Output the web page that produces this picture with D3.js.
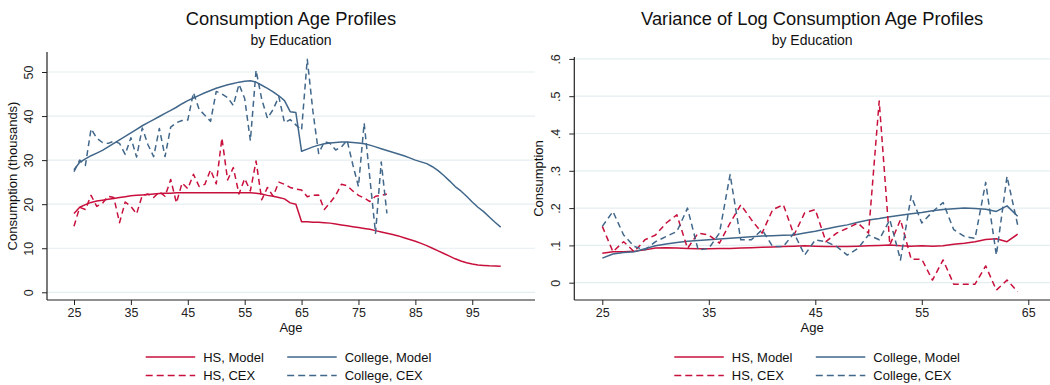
<!DOCTYPE html>
<html>
<head>
<meta charset="utf-8">
<script src="https://cdn.jsdelivr.net/npm/d3@7"></script>
<style>
  body { margin: 0; background: #fff; }
  svg { font-family: "Liberation Sans", Arial, sans-serif; }
</style>
</head>
<body>
<svg width="1050" height="385"></svg>
<script>
// ages
const agesLeft = d3.range(25, 101)
const agesCex = d3.range(25, 81)
const agesRight = d3.range(25, 65)

// left panel: consumption (thousands)
const hsModel = [17.9, 19.3, 19.9, 20.4, 20.7, 20.9, 21.1, 21.3, 21.5, 21.7,
  21.9, 22.0, 22.1, 22.2, 22.3, 22.4, 22.5, 22.5, 22.6, 22.6,
  22.6, 22.6, 22.6, 22.6, 22.6, 22.6, 22.6, 22.6, 22.6, 22.6,
  22.6, 22.6, 22.5, 22.3, 22.0, 21.8, 21.5, 21.2, 20.3, 20.0,
  16.0, 16.0, 15.9, 15.9, 15.8, 15.7, 15.5, 15.3, 15.1, 14.9,
  14.7, 14.5, 14.3, 14.0, 13.7, 13.4, 13.1, 12.8, 12.4, 12.0,
  11.6, 11.1, 10.6, 10.0, 9.4, 8.8, 8.2, 7.6, 7.1, 6.7,
  6.4, 6.2, 6.1, 6.0, 5.95, 5.9]
const collegeModel = [27.8, 29.5, 30.3, 31.0, 31.6, 32.2, 33.0, 33.8, 34.6, 35.4,
  36.2, 37.0, 37.8, 38.5, 39.2, 39.9, 40.6, 41.3, 42.0, 42.8,
  43.5, 44.1, 44.7, 45.3, 45.8, 46.3, 46.7, 47.1, 47.4, 47.7,
  47.9, 48.0, 47.7, 47.0, 46.3, 45.5, 44.6, 43.5, 41.0, 40.8,
  32.0, 32.5, 33.0, 33.4, 33.7, 33.9, 34.0, 34.1, 34.1, 34.0,
  33.9, 33.7, 33.4, 33.0, 32.6, 32.2, 31.8, 31.4, 31.0, 30.5,
  30.0, 29.6, 29.2, 28.5, 27.6, 26.5, 25.3, 24.0, 23.0, 21.8,
  20.5, 19.3, 18.3, 17.1, 15.9, 14.8]
const hsCex = [15.0, 19.3, 18.8, 22.0, 19.5, 20.2, 21.8, 21.5, 15.8, 20.5,
  19.5, 17.8, 22.0, 22.3, 21.5, 22.8, 21.8, 25.6, 20.3, 24.8,
  23.5, 26.8, 24.0, 24.5, 27.8, 24.6, 35.0, 25.5, 28.3, 22.3,
  25.8, 23.0, 29.8, 21.0, 23.8, 21.8, 25.0, 24.5, 23.8, 23.4,
  23.2, 21.7, 22.0, 22.1, 18.8, 20.3, 22.0, 24.5, 24.2, 23.0,
  22.0, 21.4, 20.6, 21.8, 22.0, 22.3]
const collegeCex = [27.4, 30.0, 28.8, 37.1, 35.0, 34.0, 33.8, 34.3, 33.8, 31.3,
  35.1, 30.7, 37.3, 33.5, 30.8, 37.2, 30.8, 37.5, 38.5, 39.0,
  39.1, 45.3, 41.5, 40.2, 38.8, 45.6, 45.0, 44.2, 42.4, 47.2,
  44.0, 34.4, 50.4, 43.8, 39.5, 41.5, 44.4, 38.5, 39.2, 38.0,
  36.8, 52.9, 41.0, 31.5, 34.2, 33.8, 32.3, 33.0, 34.5, 29.0,
  24.0, 38.4, 26.0, 13.4, 29.6, 17.9]

// right panel: variance of log consumption
const hsVarModel = [0.079, 0.083, 0.083, 0.084, 0.088, 0.093, 0.094, 0.093, 0.092, 0.091,
  0.091, 0.092, 0.092, 0.093, 0.094, 0.095, 0.096, 0.097, 0.098, 0.099,
  0.098, 0.097, 0.097, 0.097, 0.098, 0.099, 0.100, 0.101, 0.099, 0.098,
  0.099, 0.098, 0.099, 0.103, 0.106, 0.110, 0.116, 0.118, 0.110, 0.130]
const collegeVarModel = [0.066, 0.077, 0.081, 0.083, 0.091, 0.099, 0.104, 0.108, 0.111, 0.113,
  0.115, 0.117, 0.119, 0.121, 0.123, 0.125, 0.126, 0.127, 0.128, 0.133,
  0.138, 0.144, 0.150, 0.155, 0.162, 0.168, 0.172, 0.177, 0.181, 0.185,
  0.188, 0.193, 0.196, 0.198, 0.200, 0.199, 0.197, 0.191, 0.206, 0.178]
const hsVarCex = [0.151, 0.083, 0.110, 0.083, 0.115, 0.128, 0.160, 0.182, 0.092, 0.133,
  0.128, 0.106, 0.160, 0.209, 0.169, 0.133, 0.196, 0.209, 0.128, 0.187,
  0.196, 0.110, 0.133, 0.146, 0.160, 0.133, 0.487, 0.101, 0.169, 0.063,
  0.063, 0.007, 0.061, -0.004, -0.004, -0.004, 0.045, -0.020, 0.007, -0.024]
const collegeVarCex = [0.151, 0.191, 0.128, 0.097, 0.088, 0.110, 0.124, 0.137, 0.200, 0.088,
  0.092, 0.133, 0.290, 0.115, 0.115, 0.142, 0.097, 0.097, 0.133, 0.074,
  0.115, 0.110, 0.097, 0.074, 0.092, 0.128, 0.115, 0.169, 0.061, 0.233,
  0.160, 0.190, 0.215, 0.142, 0.124, 0.119, 0.269, 0.074, 0.285, 0.155]

const leftXTicks = [25, 35, 45, 55, 65, 75, 85, 95]
const leftYTicks = [0, 10, 20, 30, 40, 50]
const rightXTicks = [25, 35, 45, 55, 65]
const rightYTicks = [0, 0.1, 0.2, 0.3, 0.4, 0.5, 0.6]
const legendLabels = ['HS, Model', 'College, Model', 'HS, CEX', 'College, CEX']

const red = '#c8103c'
const blue = '#41678a'
const gridColor = '#e4edf0'

const svg = d3.select('svg')

function panel(opt) {
  const g = svg.append('g')
  const x = d3.scaleLinear().domain(opt.xDomain).range(opt.xRange)
  const y = d3.scaleLinear().domain(opt.yDomain).range(opt.yRange)
  const [left, right] = opt.frameX
  const [top, bottom] = opt.frameY

  // grid
  g.selectAll('.grid').data(opt.yTicks).enter().append('line')
    .attr('x1', left).attr('x2', right)
    .attr('y1', d => y(d)).attr('y2', d => y(d))
    .attr('stroke', gridColor).attr('stroke-width', 1.2)

  // axes
  const yAxis = g.append('g').attr('transform', `translate(${left},0)`)
    .call(d3.axisLeft(y).tickValues(opt.yTicks).tickSize(5).tickFormat(opt.yFormat))
  yAxis.select('.domain').remove()
  yAxis.append('line').attr('x1', 0).attr('x2', 0).attr('y1', top).attr('y2', bottom)
    .attr('stroke', '#222').attr('stroke-width', 1.2)
  yAxis.selectAll('.tick line').attr('stroke', '#222')
  yAxis.selectAll('.tick text')
    .attr('x', null).attr('dy', null)
    .attr('transform', 'translate(-14,0) rotate(-90)')
    .attr('text-anchor', 'middle')
    .attr('font-size', 12.5).attr('fill', '#222')

  const xAxis = g.append('g').attr('transform', `translate(0,${bottom})`)
    .call(d3.axisBottom(x).tickValues(opt.xTicks).tickSize(5).tickFormat(d3.format('d')))
  xAxis.select('.domain').remove()
  xAxis.append('line').attr('x1', left).attr('x2', right).attr('y1', 0).attr('y2', 0)
    .attr('stroke', '#222').attr('stroke-width', 1.2)
  xAxis.selectAll('.tick line').attr('stroke', '#222')
  xAxis.selectAll('.tick text').attr('y', 8).attr('font-size', 12.5).attr('fill', '#222')

  // titles
  const cx = (left + right) / 2
  g.append('text').attr('x', cx).attr('y', 25).attr('text-anchor', 'middle')
    .attr('font-size', 18.3).attr('fill', '#111').text(opt.title)
  g.append('text').attr('x', cx).attr('y', 45).attr('text-anchor', 'middle')
    .attr('font-size', 14).attr('fill', '#111').text('by Education')
  g.append('text').attr('x', cx).attr('y', 332).attr('text-anchor', 'middle')
    .attr('font-size', 13).attr('fill', '#111').text('Age')
  g.append('text')
    .attr('transform', `translate(${opt.yTitleX},${(top + bottom) / 2}) rotate(-90)`)
    .attr('text-anchor', 'middle').attr('font-size', 13).attr('fill', '#111')
    .text(opt.yTitle)

  // lines
  const line = d3.line().x(d => x(d[0])).y(d => y(d[1]))
  opt.series.forEach(s => {
    g.append('path')
      .datum(s.ages.map((a, i) => [a, s.values[i]]))
      .attr('d', line)
      .attr('fill', 'none')
      .attr('stroke', s.color)
      .attr('stroke-width', 1.5)
      .attr('stroke-linejoin', 'round')
      .attr('stroke-dasharray', s.dash ? '6,4' : null)
  })

  // legend
  const items = [
    {label: legendLabels[0], color: red, dash: false},
    {label: legendLabels[1], color: blue, dash: false},
    {label: legendLabels[2], color: red, dash: true},
    {label: legendLabels[3], color: blue, dash: true}
  ]
  items.forEach((it, i) => {
    const lx = opt.legendX + (i % 2) * 141.5
    const ly = 357 + Math.floor(i / 2) * 18.5
    g.append('line').attr('x1', lx).attr('x2', lx + 49.5).attr('y1', ly).attr('y2', ly)
      .attr('stroke', it.color).attr('stroke-width', 1.5)
      .attr('stroke-dasharray', it.dash ? '7,4' : null)
    g.append('text').attr('x', lx + 57.5).attr('y', ly + 4.5)
      .attr('font-size', 13).attr('fill', '#111').text(it.label)
  })
}

panel({
  title: 'Consumption Age Profiles',
  yTitle: 'Consumption (thousands)',
  yTitleX: 17,
  xDomain: [25, 100], xRange: [74, 500.7],
  yDomain: [0, 50], yRange: [292.3, 72],
  frameX: [47, 535], frameY: [52, 300],
  xTicks: leftXTicks, yTicks: leftYTicks,
  yFormat: d3.format('d'),
  legendX: 145.7,
  series: [
    {ages: agesLeft, values: hsModel, color: red, dash: false},
    {ages: agesLeft, values: collegeModel, color: blue, dash: false},
    {ages: agesCex, values: hsCex, color: red, dash: true},
    {ages: agesCex, values: collegeCex, color: blue, dash: true}
  ]
})

panel({
  title: 'Variance of Log Consumption Age Profiles',
  yTitle: 'Consumption',
  yTitleX: 543,
  xDomain: [25, 65], xRange: [602.3, 1028.3],
  yDomain: [0, 0.6], yRange: [282.7, 58.9],
  frameX: [574.3, 1050], frameY: [57, 300],
  xTicks: rightXTicks, yTicks: rightYTicks,
  yFormat: d => d === 0 ? '0' : d3.format('.1f')(d).replace(/^0/, ''),
  legendX: 674.3,
  series: [
    {ages: agesRight, values: hsVarModel, color: red, dash: false},
    {ages: agesRight, values: collegeVarModel, color: blue, dash: false},
    {ages: agesRight, values: hsVarCex, color: red, dash: true},
    {ages: agesRight, values: collegeVarCex, color: blue, dash: true}
  ]
})
</script>
</body>
</html>
